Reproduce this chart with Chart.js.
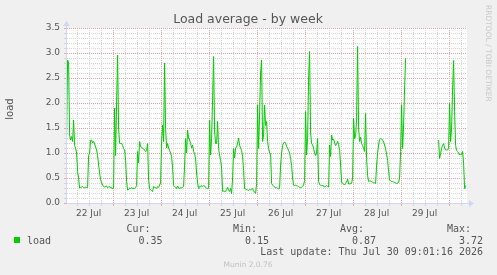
<!DOCTYPE html>
<html>
<head>
<meta charset="utf-8">
<script src="https://cdn.jsdelivr.net/npm/chart.js@4/dist/chart.umd.min.js"></script>
<style>
  html, body { margin: 0; padding: 0; background: #f0f0f0; }
  #wrap { position: relative; width: 497px; height: 275px; }
</style>
</head>
<body>
<div id="wrap"><canvas id="load" width="497" height="275"></canvas></div>
<script>
// load average, one value every 30 min starting at 00:00 of each day
const jul22 = [null, null, 1.36, 2.86, 2.8, 1.36, 1.26, 1.33, 1.23, 1.66, 1.15, 1.1, 1.0, 0.63, 0.5, 0.3, 0.31, 0.32, 0.33, 0.31, 0.3, 0.32, 0.31, 0.31,
  0.95, 1.0, 1.25, 1.26, 1.2, 1.23, 1.18, 1.12, 1.06, 0.95, 0.76, 0.6, 0.47, 0.4, 0.36, 0.33, 0.32, 0.33, 0.34, 0.31, 0.32, 0.33, 0.3, 0.31];
const jul23 = [0.28, 0.3, 1.9, 0.95, 2.0, 2.96, 1.5, 1.2, 1.18, 1.2, 1.15, 1.09, 1.06, 0.85, 0.43, 0.26, 0.27, 0.3, 0.29, 0.31, 0.28, 0.3, 0.29, 0.31,
  0.35, 1.03, 0.8, 1.23, 1.13, 1.12, 1.09, 1.08, 1.06, 1.03, 1.05, 1.19, 0.45, 0.28, 0.26, 0.25, 0.23, 0.33, 0.32, 0.3, 0.29, 0.33, 0.31, 0.36];
const jul24 = [0.4, 1.23, 1.56, 1.23, 2.8, 1.5, 1.1, 1.19, 1.1, 1.05, 1.0, 0.93, 0.7, 0.35, 0.33, 0.32, 0.29, 0.34, 0.3, 0.28, 0.31, 0.3, 0.32, 0.33,
  0.76, 1.29, 1.0, 1.46, 1.3, 1.26, 1.19, 1.1, 1.16, 1.03, 0.99, 0.88, 0.6, 0.4, 0.29, 0.33, 0.32, 0.35, 0.33, 0.35, 0.34, 0.31, 0.3, 0.28];
const jul25 = [0.3, 1.66, 0.96, 1.29, 2.09, 2.93, 1.43, 1.19, 1.19, 1.63, 1.09, 0.96, 0.85, 0.7, 0.23, 0.24, 0.23, 0.23, 0.27, 0.31, 0.26, 0.23, 0.29, 0.19,
  0.5, 1.09, 0.9, 1.1, 1.12, 1.2, 1.3, 1.15, 1.1, 1.05, 0.93, 0.65, 0.29, 0.28, 0.27, 0.26, 0.25, 0.27, 0.26, 0.28, 0.29, 0.24, 0.22, 0.19];
const jul26 = [0.39, 1.96, 1.09, 1.8, 2.6, 2.86, 1.23, 1.36, 1.96, 1.55, 1.63, 1.23, 1.09, 1.0, 0.99, 0.39, 0.36, 0.34, 0.32, 0.3, 0.31, 0.29, 0.28, 0.3,
  0.76, 1.0, 1.15, 1.2, 1.22, 1.2, 1.13, 1.1, 1.05, 1.0, 0.89, 0.75, 0.5, 0.36, 0.34, 0.36, 0.35, 0.34, 0.33, 0.31, 0.3, 0.32, 0.33, 0.36];
const jul27 = [0.45, 1.83, 0.96, 1.29, 2.5, 3.03, 1.4, 1.19, 1.16, 1.1, 0.99, 0.95, 1.0, 1.29, 0.43, 0.37, 0.36, 0.34, 0.36, 0.33, 0.32, 0.34, 0.35, 0.33,
  0.32, 1.16, 0.93, 1.36, 1.26, 1.28, 1.2, 1.15, 1.18, 1.23, 1.17, 1.05, 0.76, 0.42, 0.39, 0.38, 0.36, 0.39, 0.42, 0.48, 0.38, 0.38, 0.39, 0.39];
const jul28 = [0.5, 1.69, 1.29, 1.33, 1.69, 3.13, 1.5, 1.23, 1.32, 1.19, 1.15, 1.09, 1.03, 1.79, 0.89, 0.55, 0.43, 0.44, 0.44, 0.43, 0.42, 0.4, 0.4, 0.39,
  0.76, 1.0, 1.16, 1.27, 1.29, 1.28, 1.26, 1.22, 1.16, 1.08, 0.98, 0.85, 0.63, 0.46, 0.44, 0.43, 0.43, 0.42, 0.41, 0.4, 0.39, 0.4, 0.41, 0.5];
const jul29 = [1.03, 1.96, 1.09, 1.56, 2.3, 2.89, null, null, null, null, null, null, null, null, null, null, null, null, null, null, null, null, null, null,
  null, null, null, null, null, null, null, null, null, null, null, null, null, null, 1.26, 0.89, 0.99, 1.09, 1.15, 1.19, 1.1, 1.06, 1.06, 1.06];
const jul30 = [1.09, 1.99, 1.23, 1.5, 2.3, 2.85, 1.83, 1.15, 1.05, 1.03, 1.0, 0.96, 0.98, 0.97, 1.03, 0.8, 0.29, 0.35];

const days = [jul22, jul23, jul24, jul25, jul26, jul27, jul28, jul29, jul30];
const dayLabels = ['22 Jul', '23 Jul', '24 Jul', '25 Jul', '26 Jul', '27 Jul', '28 Jul', '29 Jul'];
const yLabels = ['0.0', '0.5', '1.0', '1.5', '2.0', '2.5', '3.0', '3.5'];
const statNames = ['Cur:', 'Min:', 'Avg:', 'Max:'];
const statValues = ['0.35', '0.15', '0.87', '3.72'];
const lastUpdate = 'Last update: Thu Jul 30 09:01:16 2026';

// hours since Jul 22 00:00
const points = days.flatMap((vals, d) => vals.map((v, k) => ({ x: d * 24 + k * 0.5, y: v })));

const AXIS = '#cfd6f8';
const MINOR = '#d4d4d4';
const MAJOR = '#eaa2a2';
const TEXT = '#555';

const muninDecor = {
    id: 'muninDecor',
    beforeDatasetsDraw(chart) {
        const { ctx, chartArea: a, scales: { x, y } } = chart;
        ctx.save();
        ctx.fillStyle = '#fff';
        ctx.fillRect(a.left, a.top, a.right - a.left, a.bottom - a.top);
        ctx.lineWidth = 1;
        ctx.setLineDash([1, 1]);
        // minor lines first, majors on top
        [false, true].forEach(wantMajor => {
            y.ticks.forEach(t => {
                const major = Math.round(t.value * 10) % 5 === 0;
                if (major !== wantMajor || t.value === 0) return;
                const py = Math.round(y.getPixelForValue(t.value)) + 0.5;
                ctx.strokeStyle = major ? MAJOR : MINOR;
                ctx.beginPath(); ctx.moveTo(a.left, py); ctx.lineTo(a.right, py); ctx.stroke();
            });
            x.ticks.forEach(t => {
                const major = t.value % 24 === 0;
                if (major !== wantMajor) return;
                const px = Math.round(x.getPixelForValue(t.value)) + 0.5;
                ctx.strokeStyle = major ? MAJOR : MINOR;
                ctx.beginPath(); ctx.moveTo(px, a.top); ctx.lineTo(px, a.bottom); ctx.stroke();
            });
        });
        ctx.setLineDash([]);
        // little tick marks outside the plot
        y.ticks.forEach(t => {
            const py = Math.round(y.getPixelForValue(t.value)) + 0.5;
            ctx.strokeStyle = Math.round(t.value * 10) % 5 === 0 ? MAJOR : MINOR;
            ctx.beginPath(); ctx.moveTo(a.left - 3, py); ctx.lineTo(a.left, py); ctx.stroke();
        });
        x.ticks.forEach(t => {
            const px = Math.round(x.getPixelForValue(t.value)) + 0.5;
            ctx.strokeStyle = t.value % 24 === 0 ? MAJOR : MINOR;
            ctx.beginPath(); ctx.moveTo(px, a.bottom); ctx.lineTo(px, a.bottom + 3); ctx.stroke();
        });
        ctx.restore();
    },
    afterDatasetsDraw(chart) {
        const { ctx, chartArea: a } = chart;
        ctx.save();
        ctx.strokeStyle = AXIS;
        ctx.fillStyle = AXIS;
        ctx.lineWidth = 1;
        const by = Math.round(a.bottom) + 0.5;
        const lx = Math.round(a.left) - 0.5;
        ctx.beginPath(); ctx.moveTo(lx, by); ctx.lineTo(a.right + 3, by); ctx.stroke();
        ctx.beginPath(); ctx.moveTo(lx, by); ctx.lineTo(lx, a.top - 3); ctx.stroke();
        ctx.beginPath(); ctx.moveTo(a.right + 2, by - 3.5); ctx.lineTo(a.right + 7, by); ctx.lineTo(a.right + 2, by + 3.5); ctx.fill();
        ctx.beginPath(); ctx.moveTo(lx - 3.5, a.top - 2); ctx.lineTo(lx, a.top - 7); ctx.lineTo(lx + 3.5, a.top - 2); ctx.fill();
        ctx.restore();
    },
    afterDraw(chart) {
        const { ctx } = chart;
        ctx.save();
        ctx.fillStyle = TEXT;
        ctx.textBaseline = 'alphabetic';
        ctx.font = '12.5px "DejaVu Sans"';
        ctx.textAlign = 'center';
        ctx.fillText('Load average - by week', 248, 22.5);

        ctx.save();
        ctx.translate(10, 109);
        ctx.rotate(-Math.PI / 2);
        ctx.font = '10px "DejaVu Sans"';
        ctx.textBaseline = 'middle';
        ctx.fillText('load', 0, 0);
        ctx.restore();

        ctx.save();
        ctx.fillStyle = '#c8c8c8';
        ctx.translate(487.5, 5);
        ctx.rotate(Math.PI / 2);
        ctx.font = '7.5px "DejaVu Sans"';
        ctx.textAlign = 'left';
        ctx.textBaseline = 'middle';
        ctx.fillText('RRDTOOL / TOBI OETIKER', 0, 0);
        ctx.restore();

        ctx.font = '10px "DejaVu Sans Mono"';
        const colRight = [162.5, 269, 376, 483];
        ctx.textAlign = 'right';
        statNames.forEach((n, i) => ctx.fillText(n, colRight[i] - 12, 232));
        statValues.forEach((v, i) => ctx.fillText(v, colRight[i], 243.5));
        ctx.fillText(lastUpdate, 483, 255);
        ctx.textAlign = 'left';
        ctx.fillText('load', 27, 243.5);
        ctx.fillStyle = '#00cc00';
        ctx.fillRect(14, 237, 6, 6);

        ctx.fillStyle = '#c0c0c0';
        ctx.textAlign = 'center';
        ctx.font = '7.5px "DejaVu Sans"';
        ctx.fillText('Munin 2.0.76', 248, 267);
        ctx.restore();
    }
};

const xTickValues = [];
for (let h = 6; h <= 198; h += 6) xTickValues.push(h);
const yTickValues = [];
for (let i = 0; i <= 35; i++) yTickValues.push(i / 10);

new Chart(document.getElementById('load'), {
    type: 'line',
    data: {
        datasets: [{
            label: 'load',
            data: points,
            borderColor: '#00cc00',
            borderWidth: 1,
            pointRadius: 0,
            tension: 0,
            spanGaps: false,
            clip: 0
        }]
    },
    plugins: [muninDecor],
    options: {
        responsive: false,
        animation: false,
        devicePixelRatio: 1,
        layout: { padding: { left: 0, top: 28, right: 30, bottom: 0 } },
        plugins: { legend: { display: false }, tooltip: { enabled: false } },
        scales: {
            x: {
                type: 'linear',
                min: 1.2,
                max: 201.2,
                afterBuildTicks: s => { s.ticks = xTickValues.map(v => ({ value: v })); },
                afterFit: s => { s.height = 72; },
                grid: { display: false, drawTicks: false },
                border: { display: false },
                ticks: {
                    autoSkip: false,
                    maxRotation: 0,
                    padding: 5,
                    color: TEXT,
                    font: { family: 'DejaVu Sans', size: 9 },
                    callback: v => (v % 24 === 12 ? dayLabels[(v - 12) / 24] : '')
                }
            },
            y: {
                min: 0,
                max: 3.5,
                afterBuildTicks: s => { s.ticks = yTickValues.map(v => ({ value: v })); },
                afterFit: s => { s.width = 67; },
                grid: { display: false, drawTicks: false },
                border: { display: false },
                ticks: {
                    autoSkip: false,
                    padding: 7,
                    color: TEXT,
                    font: { family: 'DejaVu Sans', size: 9 },
                    callback: v => {
                        const tenth = Math.round(v * 10);
                        return tenth % 5 === 0 ? yLabels[tenth / 5] : '';
                    }
                }
            }
        }
    }
});
</script>
</body>
</html>
